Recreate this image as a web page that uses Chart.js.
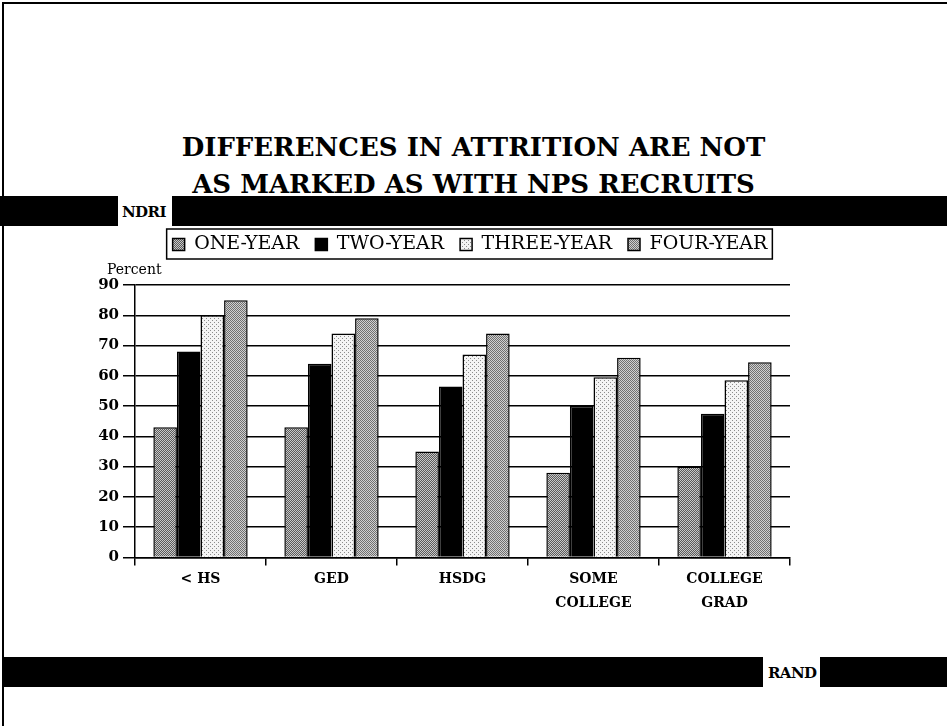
<!DOCTYPE html>
<html>
<head>
<meta charset="utf-8">
<script src="https://cdn.jsdelivr.net/npm/chart.js@4.4.1/dist/chart.umd.min.js"></script>
<style>
  body { margin: 0; background: #fff; font-family: "DejaVu Serif", serif; }
  #page { position: relative; width: 947px; height: 726px; overflow: hidden; }
  #frame { position: absolute; left: 2px; top: 2px; width: 960px; height: 760px; border-left: 2px solid #000; border-top: 2px solid #000; }
  #title { position: absolute; left: 0; width: 947px; top: 129px; text-align: center; font-weight: bold; font-size: 26px; line-height: 37px; }
  .band { position: absolute; background: #000; height: 30px; }
  .tag { position: absolute; font-weight: bold; font-size: 15px; letter-spacing: -0.6px; line-height: 32px; }
  #chartBox { position: absolute; left: 40px; top: 216px; width: 860px; height: 430px; }
</style>
</head>
<body>
<div id="page">
  <div id="frame"></div>
  <div id="title">DIFFERENCES IN ATTRITION ARE NOT<br>AS MARKED AS WITH NPS RECRUITS</div>
  <div class="band" style="left:0;top:196px;width:118px"></div>
  <div class="tag" style="left:122px;top:196px">NDRI</div>
  <div class="band" style="left:172px;top:196px;width:775px"></div>
  <div class="band" style="left:4px;top:657px;width:759px"></div>
  <div class="tag" style="left:768px;top:657px">RAND</div>
  <div class="band" style="left:820px;top:657px;width:127px"></div>
  <div id="chartBox"><canvas id="attritionChart" width="860" height="430"></canvas></div>
</div>
<script>
// categories and series
const categories = ['< HS', 'GED', 'HSDG', ['SOME', 'COLLEGE'], ['COLLEGE', 'GRAD']];
const seriesNames = ['ONE-YEAR', 'TWO-YEAR', 'THREE-YEAR', 'FOUR-YEAR'];
const oneYear = [43, 43, 35, 28, 30];
const twoYear = [68, 64, 56.5, 50, 47.5];
const threeYear = [80, 74, 67, 59.5, 58.5];
const fourYear = [85, 79, 74, 66, 64.5];
const yTicks = [0, 10, 20, 30, 40, 50, 60, 70, 80, 90];

// halftone-ish fills like the scanned slide
function makePattern(bg, dot, step) {
    const c = document.createElement('canvas');
    c.width = step * 2; c.height = step * 2;
    const g = c.getContext('2d');
    g.fillStyle = bg;
    g.fillRect(0, 0, c.width, c.height);
    g.fillStyle = dot;
    g.fillRect(0, 0, 1, 1);
    g.fillRect(step, step, 1, 1);
    return g.createPattern(c, 'repeat');
}

const fills = [
    makePattern('#5a5a5a', '#c8c8c8', 1),
    '#000000',
    makePattern('#f4f4f4', '#8c8c8c', 2),
    makePattern('#d0d0d0', '#707070', 1)
];
const allSeries = [oneYear, twoYear, threeYear, fourYear];

const serif = '"DejaVu Serif", serif';
const font = { family: serif, size: 14, weight: 'bold', lineHeight: 1.7 };

// draws the box round the legend and the "Percent" label
const extras = {
    id: 'extras',
    beforeInit(chart) {
        const fit = chart.legend.fit;
        chart.legend.fit = function() {
            fit.bind(this)();
            this.height += 21;
        };
    },
    afterDraw(chart) {
        const ctx = chart.ctx;
        const boxes = chart.legend.legendHitBoxes;
        const left = Math.min(...boxes.map(b => b.left)) - 6;
        const right = Math.max(...boxes.map(b => b.left + b.width)) + 5;
        const top = boxes[0].top - 6;
        const bottom = boxes[0].top + boxes[0].height + 5;
        ctx.save();
        ctx.strokeStyle = '#000';
        ctx.lineWidth = 1.5;
        ctx.strokeRect(left, top, right - left, bottom - top);
        ctx.fillStyle = '#000';
        ctx.font = '14px ' + serif;
        ctx.textAlign = 'left';
        ctx.textBaseline = 'bottom';
        ctx.fillText('Percent', chart.chartArea.left - 28, chart.chartArea.top - 8);
        ctx.restore();
    }
};

const ctx = document.getElementById('attritionChart').getContext('2d');
new Chart(ctx, {
    type: 'bar',
    data: {
        labels: categories,
        datasets: seriesNames.map((name, i) => ({
            label: name,
            data: allSeries[i],
            backgroundColor: fills[i],
            borderColor: '#000',
            borderWidth: 1.5,
            borderSkipped: 'bottom',
            categoryPercentage: 0.72,
            barPercentage: 1.0
        }))
    },
    options: {
        responsive: false,
        animation: false,
        layout: { padding: { top: 3, right: 0, bottom: 29, left: 0 } },
        plugins: {
            tooltip: { enabled: false },
            legend: {
                position: 'top',
                labels: {
                    color: '#000',
                    font: { family: serif, size: 19 },
                    boxWidth: 12,
                    boxHeight: 12,
                    padding: 16
                }
            }
        },
        scales: {
            x: {
                offset: true,
                grid: {
                    offset: true,
                    drawOnChartArea: false,
                    color: '#000',
                    lineWidth: 1.5,
                    tickLength: 8
                },
                border: { color: '#000', width: 1.5 },
                ticks: { color: '#000', font: font, padding: 2, maxRotation: 0 }
            },
            y: {
                min: 0,
                max: 90,
                afterFit(scale) { scale.width = 95; },
                afterBuildTicks(scale) { scale.ticks = yTicks.map(v => ({ value: v })); },
                grid: { color: '#000', lineWidth: 1.5, tickLength: 12 },
                border: { color: '#000', width: 1.5 },
                ticks: { color: '#000', font: { family: serif, size: 15, weight: 'bold' }, padding: 4 }
            },
            // empty right-hand spacer so the legend sits where the slide has it
            yRight: {
                position: 'right',
                min: 0,
                max: 90,
                afterFit(scale) { scale.width = 110; },
                grid: { display: false },
                border: { display: false },
                ticks: { display: false }
            }
        }
    },
    plugins: [extras]
});
</script>
</body>
</html>
